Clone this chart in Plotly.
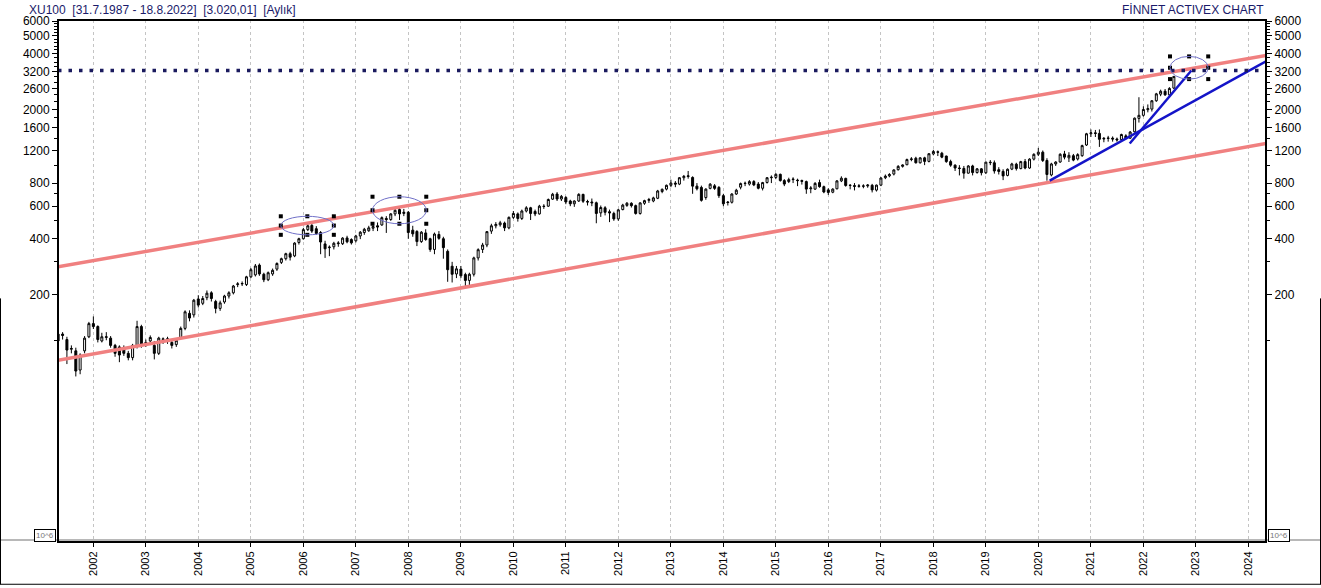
import pandas as pd
import plotly.graph_objects as go

# Aylık mumlar: Mayıs 2001 - Ağustos 2022 (XU100, 2020 sonrası ölçekte)
months = pd.date_range("2001-05-01", "2022-08-01", freq="MS")

opens = [
    112, 122, 114, 101, 99, 78, 99, 118,                                  # 2001 (May-Dec)
    139, 134, 112, 117, 116, 106, 104, 102, 96, 91, 105, 134,              # 2002
    107, 112, 106, 96, 115, 114, 110, 107, 117, 131, 158, 155,             # 2003
    189, 179, 192, 204, 183, 168, 182, 196, 204, 226, 228, 226,            # 2004
    249, 255, 288, 257, 240, 258, 274, 298, 312, 332, 323, 382,            # 2005
    400, 448, 472, 453, 432, 375, 358, 362, 376, 376, 404, 396,            # 2006
    390, 414, 432, 442, 456, 470, 475, 515, 508, 545, 575, 548,            # 2007
    556, 445, 438, 386, 430, 400, 350, 422, 400, 342, 284, 258,            # 2008
    274, 256, 238, 257, 315, 350, 370, 440, 470, 476, 486, 458,            # 2009
    522, 545, 515, 565, 588, 562, 545, 600, 600, 655, 698, 656,            # 2010
    668, 640, 618, 640, 695, 636, 632, 626, 552, 588, 560, 548,            # 2011
    512, 575, 606, 622, 604, 548, 622, 645, 640, 662, 720, 742,            # 2012
    778, 800, 790, 855, 868, 858, 770, 758, 668, 749, 773, 758,            # 2013
    684, 632, 630, 698, 760, 795, 790, 815, 790, 750, 806, 855,            # 2014
    858, 892, 825, 815, 835, 830, 825, 815, 745, 742, 805, 765,            # 2015
    735, 714, 745, 822, 848, 776, 775, 768, 772, 772, 778, 733,            # 2016
    780, 855, 875, 895, 945, 985, 1005, 1072, 1090, 1030, 1095, 1048,      # 2017
    1150, 1180, 1160, 1120, 1045, 1000, 965, 960, 905, 990, 912, 955,      # 2018
    910, 1038, 1030, 945, 925, 880, 952, 1012, 958, 1045, 965, 1078,       # 2019
    1145, 1175, 1060, 885, 1015, 1040, 1150, 1095, 1125, 1080, 1125, 1285, # 2020
    1478, 1495, 1485, 1385, 1395, 1400, 1385, 1375, 1440, 1400, 1515, 1790,# 2021
    1860, 1995, 2010, 2230, 2420, 2510, 2400, 2610,                        # 2022 (Jan-Aug)
]
highs = [
    131, 125, 118, 106, 103, 96, 119, 142,
    152, 136, 124, 125, 119, 108, 106, 106, 99, 108, 144, 137,
    114, 120, 112, 118, 117, 118, 114, 116, 134, 164, 164, 189,
    198, 196, 210, 208, 187, 185, 199, 208, 225, 233, 235, 252,
    278, 292, 294, 262, 266, 276, 298, 316, 336, 340, 383, 405,
    458, 482, 496, 468, 440, 390, 368, 385, 388, 408, 415, 402,
    420, 440, 458, 470, 475, 490, 528, 530, 550, 585, 590, 580,
    565, 470, 445, 440, 450, 405, 432, 440, 410, 350, 300, 285,
    285, 262, 262, 320, 355, 380, 440, 482, 492, 500, 495, 528,
    565, 555, 575, 600, 595, 575, 610, 615, 660, 708, 715, 690,
    680, 650, 645, 705, 700, 650, 660, 635, 605, 600, 575, 560,
    580, 618, 632, 630, 612, 630, 650, 665, 675, 735, 748, 785,
    835, 820, 862, 885, 930, 870, 800, 775, 750, 800, 790, 770,
    700, 640, 705, 745, 805, 815, 830, 830, 810, 812, 862, 880,
    905, 900, 840, 855, 860, 845, 835, 825, 770, 810, 835, 775,
    750, 750, 830, 870, 855, 790, 800, 790, 788, 790, 792, 785,
    862, 890, 905, 950, 1000, 1010, 1085, 1105, 1110, 1105, 1110, 1160,
    1210, 1200, 1180, 1125, 1070, 1010, 1000, 990, 1000, 1005, 965, 965,
    1045, 1065, 1060, 975, 950, 960, 1030, 1030, 1055, 1080, 1090, 1160,
    1240, 1200, 1090, 1030, 1050, 1160, 1195, 1175, 1150, 1160, 1290, 1495,
    1560, 1550, 1560, 1420, 1440, 1430, 1410, 1480, 1470, 1530, 1810, 2330,
    2080, 2130, 2250, 2460, 2560, 2580, 2640, 3030,
]
lows = [
    109, 114, 84, 96, 72, 74, 96, 116,
    130, 110, 110, 113, 103, 92, 86, 93, 88, 88, 102, 103,
    104, 108, 89, 94, 108, 108, 102, 104, 115, 128, 143, 150,
    170, 175, 186, 183, 158, 163, 178, 190, 200, 219, 222, 222,
    245, 250, 252, 233, 236, 252, 268, 292, 305, 305, 318, 372,
    396, 440, 430, 420, 330, 315, 322, 350, 362, 370, 378, 372,
    382, 398, 420, 436, 440, 440, 470, 430, 500, 530, 505, 530,
    400, 410, 365, 380, 390, 340, 330, 395, 312, 234, 232, 245,
    245, 220, 222, 250, 305, 335, 360, 425, 455, 465, 440, 450,
    512, 495, 505, 555, 505, 530, 540, 580, 595, 648, 640, 640,
    615, 600, 595, 632, 625, 605, 600, 485, 525, 535, 492, 500,
    500, 570, 595, 590, 540, 540, 610, 625, 630, 655, 705, 730,
    760, 760, 780, 825, 845, 700, 730, 635, 650, 740, 735, 665,
    600, 605, 620, 690, 740, 770, 775, 770, 740, 730, 795, 800,
    840, 815, 770, 800, 800, 770, 785, 700, 705, 735, 755, 705,
    690, 705, 740, 810, 765, 740, 730, 755, 750, 755, 712, 720,
    770, 840, 860, 880, 935, 970, 1000, 1050, 1020, 1020, 1000, 1035,
    1130, 1120, 1090, 1030, 980, 930, 880, 845, 900, 880, 900, 880,
    895, 1000, 900, 890, 830, 870, 940, 935, 950, 950, 955, 1060,
    1120, 1040, 824, 870, 990, 1030, 1075, 1040, 1050, 1060, 1110, 1270,
    1420, 1420, 1255, 1330, 1340, 1340, 1340, 1360, 1380, 1385, 1500, 1700,
    1830, 1930, 1950, 2200, 2360, 2370, 2320, 2580,
]
closes = [
    122, 120, 100, 102, 77, 94, 116, 139,
    134, 114, 118, 118, 106, 96, 94, 96, 91, 106, 134, 107,
    110, 117, 96, 116, 114, 115, 106, 113, 131, 161, 149, 186,
    175, 190, 203, 190, 168, 180, 196, 204, 222, 228, 229, 249,
    272, 285, 258, 240, 262, 270, 294, 312, 332, 318, 379, 400,
    448, 470, 440, 427, 384, 353, 360, 378, 379, 403, 385, 380,
    414, 434, 450, 458, 466, 463, 520, 508, 545, 570, 545, 556,
    432, 425, 386, 434, 396, 350, 424, 402, 358, 272, 257, 275,
    252, 238, 257, 315, 349, 370, 437, 470, 478, 488, 458, 522,
    548, 515, 565, 588, 548, 545, 600, 598, 652, 696, 656, 678,
    632, 618, 640, 695, 638, 632, 626, 548, 590, 556, 552, 512,
    573, 608, 622, 604, 548, 625, 643, 652, 665, 725, 740, 778,
    800, 790, 855, 870, 875, 770, 745, 645, 742, 789, 749, 684,
    618, 628, 698, 732, 795, 798, 815, 782, 750, 805, 855, 860,
    892, 825, 790, 835, 840, 825, 818, 742, 752, 797, 765, 716,
    712, 742, 822, 850, 776, 778, 768, 772, 770, 780, 735, 780,
    852, 872, 890, 942, 985, 1002, 1072, 1080, 1030, 1095, 1048, 1153,
    1186, 1175, 1105, 1045, 1000, 965, 960, 905, 990, 912, 955, 910,
    1038, 1032, 930, 925, 875, 950, 1015, 958, 1045, 965, 1078, 1144,
    1175, 1060, 890, 1015, 1040, 1145, 1105, 1130, 1065, 1140, 1275, 1478,
    1495, 1485, 1380, 1395, 1400, 1385, 1370, 1465, 1398, 1510, 1795, 1860,
    2000, 2020, 2230, 2430, 2510, 2400, 2600, 3020,
]

# çizimler (tarih, değer)
channel_upper_x = ["2001-04-30", "2024-05-03"]
channel_upper_y = [282, 3920]
channel_lower_x = ["2001-04-30", "2024-05-03"]
channel_lower_y = [88, 1312]
trend_long_x = ["2020-03-20", "2024-05-03"]
trend_long_y = [825, 3640]
trend_steep_x = ["2021-09-28", "2022-12-01"]
trend_steep_y = [1310, 3250]
level_x = ["2001-04-30", "2024-05-03"]
level_y = [3250, 3250]
# elips kutuları: (x0, x1, y0, y1)
ellipses = [
    ("2005-07-28", "2006-08-01", 420, 529),
    ("2007-04-27", "2008-05-05", 482, 675),
    ("2022-07-05", "2023-03-28", 2920, 3874),
]

years = list(range(2002, 2025))
y_ticks = [200, 400, 600, 800, 1200, 1600, 2000, 2600, 3200, 4000, 5000, 6000]
y_minor = [112, 300, 500, 700, 1000, 1400, 1800, 2200, 2400, 2800, 3000, 3400, 3600,
           3800, 4200, 4400, 4600, 4800, 5200, 5400, 5600, 5800]

FONT = "Arial, Liberation Sans, sans-serif"
NAVY = "#1a1a6a"

fig = go.Figure()

for xs, ys in [(channel_upper_x, channel_upper_y), (channel_lower_x, channel_lower_y)]:
    fig.add_trace(go.Scatter(x=xs, y=ys, mode="lines", line=dict(color="#f08080", width=3.5),
                             hoverinfo="skip", showlegend=False))

fig.add_trace(go.Candlestick(
    x=months, open=opens, high=highs, low=lows, close=closes,
    increasing=dict(line=dict(color="black", width=1), fillcolor="white"),
    decreasing=dict(line=dict(color="black", width=1), fillcolor="black"),
    whiskerwidth=0, showlegend=False,
))

for xs, ys in [(trend_long_x, trend_long_y), (trend_steep_x, trend_steep_y)]:
    fig.add_trace(go.Scatter(x=xs, y=ys, mode="lines", line=dict(color="#1414c8", width=2.5),
                             hoverinfo="skip", showlegend=False))

# kesikli yatay seviye (sağ eksen üzerinde)
fig.add_trace(go.Scatter(x=level_x, y=level_y, mode="lines", yaxis="y2",
                         line=dict(color="#1a1a5e", width=3.5, dash="3.5px,7px"),
                         hoverinfo="skip", showlegend=False))

# elipsler ve seçim kutucukları
hx, hy = [], []
for x0, x1, y0, y1 in ellipses:
    fig.add_shape(type="circle", xref="x", yref="y", x0=x0, x1=x1, y0=y0, y1=y1,
                  line=dict(color="#7070c8", width=1))
    t0, t1 = pd.Timestamp(x0), pd.Timestamp(x1)
    tm = t0 + (t1 - t0) / 2
    ym = (y0 * y1) ** 0.5
    hx += [t0, tm, t1, t0, t1, t0, tm, t1]
    hy += [y1, y1, y1, ym, ym, y0, y0, y0]
fig.add_trace(go.Scatter(x=hx, y=hy, mode="markers",
                         marker=dict(symbol="square", size=4, color="black"),
                         hoverinfo="skip", showlegend=False))

# çerçeve ve alt panel çizgileri
W, H, L, R, T, B = 1321, 588, 58, 1266, 20, 545
pw, ph = R - L, B - T
def px(v):
    return (v - L) / pw
def py(v):
    return (B - v) / ph

fig.add_shape(type="line", xref="paper", yref="paper", x0=px(0), x1=px(W), y0=py(543), y1=py(543),
              line=dict(color="#a0a0a0", width=1.5))
fig.add_shape(type="rect", xref="paper", yref="paper", x0=0, x1=1, y0=0, y1=1,
              line=dict(color="black", width=2))
fig.add_shape(type="line", xref="paper", yref="paper", x0=px(0.5), x1=px(0.5), y0=py(300), y1=py(587.5),
              line=dict(color="black", width=1))
fig.add_shape(type="line", xref="paper", yref="paper", x0=px(1320.5), x1=px(1320.5), y0=py(300), y1=py(587.5),
              line=dict(color="black", width=1))
fig.add_shape(type="line", xref="paper", yref="paper", x0=px(0), x1=px(W), y0=py(587.5), y1=py(587.5),
              line=dict(color="black", width=1))

fig.add_annotation(xref="paper", yref="paper", x=px(27), y=py(10), xanchor="left", yanchor="middle",
                   text="XU100\u00a0\u00a0[31.7.1987 - 18.8.2022]\u00a0\u00a0[3.020,01]\u00a0\u00a0[Aylık]",
                   showarrow=False, font=dict(family=FONT, size=12, color=NAVY))
fig.add_annotation(xref="paper", yref="paper", x=px(1266), y=py(10), xanchor="right", yanchor="middle",
                   text="FİNNET ACTIVEX CHART", showarrow=False, font=dict(family=FONT, size=12, color=NAVY))
for cx in (45, 1279):
    fig.add_annotation(xref="paper", yref="paper", x=px(cx), y=py(538.5), xanchor="center", yanchor="middle",
                       text="10^6", showarrow=False, bgcolor="white", bordercolor="black",
                       borderwidth=1, borderpad=1, font=dict(family=FONT, size=8, color="#777777"))

yaxis_common = dict(
    type="log", range=[0.962, 3.785],
    tickmode="array", tickvals=y_ticks, ticktext=[str(v) for v in y_ticks],
    ticks="outside", ticklen=5, tickcolor="black", tickwidth=1,
    minor=dict(tickmode="array", tickvals=y_minor, ticks="outside", ticklen=3,
               tickcolor="black", showgrid=False),
    showgrid=False, zeroline=False, showline=False,
    tickfont=dict(family=FONT, size=12, color="black"),
)

fig.update_layout(
    width=W, height=H,
    margin=dict(l=L, r=W - R, t=T, b=H - B),
    paper_bgcolor="white", plot_bgcolor="white",
    showlegend=False, hovermode=False,
    xaxis=dict(
        type="date", range=["2001-04-30", "2024-05-03"],
        rangeslider=dict(visible=False),
        tickmode="array", tickvals=[f"{y}-01-01" for y in years], ticktext=[str(y) for y in years],
        tickangle=-90, ticks="outside", ticklen=4, tickcolor="black",
        showgrid=True, gridcolor="#c4c4c4", griddash="dot", gridwidth=1,
        showline=False, zeroline=False,
        tickfont=dict(family=FONT, size=11, color="black"),
    ),
    yaxis=dict(side="left", **yaxis_common),
    yaxis2=dict(side="right", overlaying="y", matches="y", **yaxis_common),
)

# sayfa kenar boşluğunu kaldır, araç çubuğunu gizle
fig.write_html("out.html", config={"displayModeBar": False},
               post_script="document.body.style.margin='0';")
